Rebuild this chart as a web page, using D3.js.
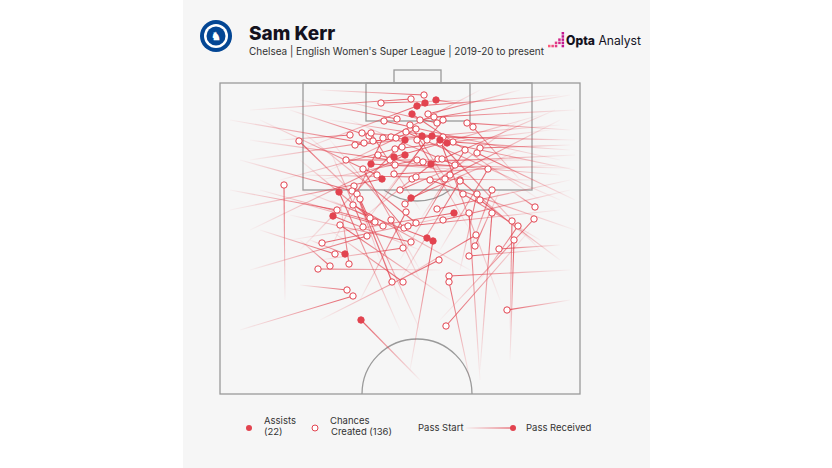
<!DOCTYPE html>
<html><head><meta charset="utf-8">
<script src="https://cdn.jsdelivr.net/npm/d3@7"></script>
<style>body{margin:0;background:#fff;font-family:Inter,"Noto Sans",sans-serif}</style>
</head><body><svg id="c" width="832" height="468"></svg>
<script>
// pitch units: x across (0-72), y depth from goal line (0-62.2)
const assists = [
[39.4,4.6,68,2.4],[41,4,16,13.4],[43.2,3.4,50,4.4],[38.4,6.2,64,23.4],[40.4,10.6,68,11.4],
[42.4,10.6,22,7.4],[37,11.4,16,33.4],[45.4,12,71,17.4],[34.8,14.8,64,6.4],[37,14.4,6,29.4],
[42.2,16.2,68,18.4],[30.2,16.2,50,17.4],[32.4,19.2,2,25.4],[23.8,21.8,36,49.4],[38.2,23,60,13.4],
[22.6,26.6,40,33.4],[46.8,26,14,31.4],[41.4,31,16,21.4],[42.6,31.6,38,57.4],[25,34.2,18,31.4],
[28.2,47.4,40,59.4],[44,11.4,56,43.4]];
const chances = [
[32.2,4,50,3.4],[38.2,3.2,6,5.4],[40.8,2.4,20,1.4],[32.8,7.6,68,15.4],[35.4,7.2,16,3.4],
[41.6,6.2,60,1.4],[42.8,6.8,71,5.4],[44.6,7.4,32,23.4],[43.4,8,24,3.4],[49.4,8,70,9.4],
[50.6,8.8,60,19.4],[39.2,9.2,22,17.4],[37.2,9.8,68,23.4],[28.4,10,48,11.4],[29.8,10.6,14,5.4],
[30.6,11.6,68,8.4],[32.6,11,22,33.4],[34.2,10.8,52,1.4],[35.2,11,6,15.4],[27,12.4,46,10.4],
[28.8,12,2,7.4],[39.4,11.4,50,29.4],[41.4,11.4,28,29.4],[44.6,10.8,71,11.4],[44,12,64,33.4],
[46.6,11.8,70,13.4],[35,13.2,66,9.4],[36.4,12.8,12,19.4],[52,13,70,12.4],[51.4,14,71,23.4],
[31.6,14.4,52,19.4],[25.2,15.4,64,15.4],[39.4,15.4,20,19.4],[40.6,15.8,71,14.4],[43.6,15.2,28,27.4],
[44.4,15.2,67,5.4],[28.6,17.2,40,37.4],[35,16.4,70,17],[53.6,17.2,44,33.4],[31.4,18.4,8,7.4],
[34.8,18.2,68,16.4],[38.4,19.2,64,19.4],[39.2,18.8,16,18.4],[45,19.2,68,7.4],[46,18.4,36,35.4],
[48,19.4,62,31.4],[15.8,11.6,28,23.4],[12.8,20.4,13,43.4],[26.8,20.6,32,35.4],[26.4,21.6,4,15.4],
[27.4,22.2,36,43.4],[28,23.2,40,49.4],[26.6,24.4,50,37.4],[23.4,25.4,2,21.4],[29.8,26.8,22,23.4],
[37,24.2,60,7.4],[37.2,25.8,28,43.4],[43.4,25.2,70,19.4],[48.6,22.2,64,31.4],[51.4,22.2,48,37.4],
[54.4,21.4,50,33.4],[49.8,26,52,59.4],[54.4,26,52,57.4],[30,27,16,15.4],[31,27.8,8,21.4],
[34.2,27.4,40,39.4],[32.6,28.6,14,23.4],[28.6,28.8,22,13.4],[29.4,30.6,6,37.4],[20.4,32,52,25.4],
[23,34.2,8,29.4],[25.8,36.2,24,23.4],[22,36.6,16,31.4],[19.6,37.2,44,37.4],[36.8,29,22,11.4],
[37.6,28.6,68,25.4],[39.2,28,16,9.4],[38.2,31.8,14,26.4],[36.6,33,20,35.4],[44.6,27.4,70,21.4],
[48,19.6,36,39.4],[51.2,30.4,36,39.4],[51,32.6,56,21.4],[49.8,34.6,64,33.4],[55.8,33.2,68,32.4],
[58.4,27.6,58,49.4],[59.6,28.6,52,39.4],[63,24.8,58,21.4],[62.8,27.2,44,47.4],[58.8,31.4,58,55.4],
[43.8,35.4,20,47.4],[45.8,38.6,70,37.4],[45.8,39.8,50,59.4],[34.4,39.8,28,23.4],[36.6,39.8,22,29.4],
[25.4,41.4,16,40.4],[26.6,42.6,4,49.4],[57.4,45.4,70,43.4],[45.2,48.6,62,29.4],[30.2,10,40,25.4],
[38,8.4,48,23.4],[26,10.4,12,11.4],[40,7.4,70,2.4],[34,15.4,6,11.4],[47,16.4,26,7.4],
[42,19.4,71,29.4],[49,13.4,40,27.4],[36,21.4,50,15.4],[24,28.4,46,43.4],[52,23.4,68,35.4]];
const legendLabels = ["Assists","(22)","Chances","Created (136)","Pass Start","Pass Received"];
const title = "Sam Kerr";
const subtitle = "Chelsea | English Women's Super League | 2019-20 to present";

const RED = "#e2434f";
const svg = d3.select("#c");
svg.append("rect").attr("x",183).attr("y",0).attr("width",467).attr("height",468).attr("fill","#f6f6f6");
const x = d3.scaleLinear().domain([0,72]).range([220,580]);
const y = d3.scaleLinear().domain([0,62.2]).range([83,394]);
const g = svg.append("g");
const pc = "#9a9a9a";
const rect=(x0,y0,x1,y1)=>g.append("rect").attr("x",x(x0)).attr("y",y(y0)).attr("width",x(x1)-x(x0)).attr("height",y(y1)-y(y0)).attr("fill","none").attr("stroke",pc).attr("stroke-width",1.3);
rect(0,0,72,62.2); rect(16.6,0,62.4,21.4); rect(29.2,0,50,7.6); rect(34.8,-2.6,44.2,0);
const pcx=x(39.4), pcy=y(12.6), pr=x(11)-x(0);
const ang=Math.acos((y(21.4)-pcy)/pr);
g.append("path").attr("d",d3.arc()({innerRadius:pr,outerRadius:pr,startAngle:Math.PI-ang,endAngle:Math.PI+ang})).attr("transform",`translate(${pcx},${pcy})`).attr("fill","none").attr("stroke",pc).attr("stroke-width",1.3);
g.append("path").attr("d",d3.arc()({innerRadius:x(11)-x(0),outerRadius:x(11)-x(0),startAngle:-Math.PI/2,endAngle:Math.PI/2})).attr("transform",`translate(${x(39.4)},${y(62.2)})`).attr("fill","none").attr("stroke",pc).attr("stroke-width",1.3);

const defs=svg.append("defs");
const all=chances.map(d=>({d,a:false})).concat(assists.map(d=>({d,a:true})));
all.forEach((o,i)=>{
  const [ex,ey,sx,sy]=o.d;
  const gr=defs.append("linearGradient").attr("id","g"+i).attr("gradientUnits","userSpaceOnUse")
    .attr("x1",x(sx)).attr("y1",y(sy)).attr("x2",x(ex)).attr("y2",y(ey));
  gr.append("stop").attr("offset",0).attr("stop-color",RED).attr("stop-opacity",0.03);
  gr.append("stop").attr("offset",1).attr("stop-color",RED).attr("stop-opacity",0.85);
  g.append("line").attr("x1",x(sx)).attr("y1",y(sy)).attr("x2",x(ex)).attr("y2",y(ey))
    .attr("stroke",`url(#g${i})`).attr("stroke-width",1.1);
});
all.forEach(o=>{
  g.append("circle").attr("cx",x(o.d[0])).attr("cy",y(o.d[1])).attr("r",3.2)
   .attr("fill",o.a?RED:"#fff").attr("stroke",RED).attr("stroke-width",1);
});

// header
const lg=svg.append("g").attr("transform","translate(216,36)");
lg.append("circle").attr("r",16).attr("fill","#034694");
lg.append("circle").attr("r",12).attr("fill","#fff");
lg.append("circle").attr("r",9.5).attr("fill","#034694");
lg.append("text").attr("text-anchor","middle").attr("y",4).attr("font-size",11).attr("font-weight",700).attr("fill","#fff").text("♞");
svg.append("text").attr("x",249).attr("y",40).text(title).attr("font-size",19).attr("font-weight",800).attr("fill","#14121e");
svg.append("text").attr("x",249).attr("y",51).attr("dy","0.35em").text(subtitle).attr("font-size",10.5).attr("fill","#333")
  .attr("textLength",295).attr("lengthAdjust","spacingAndGlyphs");
const sq=[[0,4],[1,4],[2,3],[3,3],[3,2],[4,1],[4,0],[2,4],[4,4],[4,3],[4,2]];
sq.forEach(([i,j])=>svg.append("rect").attr("x",548+i*3.4).attr("y",32+j*3.2).attr("width",2.5).attr("height",2.5).attr("fill",d3.interpolate("#ff5a7a","#c2188f")(i/4)));
svg.append("text").attr("x",566).attr("y",45).attr("font-size",12.5).attr("fill","#14121e")
  .attr("textLength",75).attr("lengthAdjust","spacingAndGlyphs")
  .call(t=>{t.append("tspan").attr("font-weight",800).text("Opta");t.append("tspan").text(" Analyst");});

// legend
const ly=428, fs=9.5, tc="#333";
svg.append("circle").attr("cx",249).attr("cy",ly).attr("r",3).attr("fill",RED);
svg.append("text").attr("x",264).attr("y",ly-4).text(legendLabels[0]).attr("font-size",fs).attr("fill",tc);
svg.append("text").attr("x",264).attr("y",ly+7).text(legendLabels[1]).attr("font-size",fs).attr("fill",tc);
svg.append("circle").attr("cx",315).attr("cy",ly).attr("r",3).attr("fill","#fff").attr("stroke",RED);
svg.append("text").attr("x",330).attr("y",ly-4).text(legendLabels[2]).attr("font-size",fs).attr("fill",tc);
svg.append("text").attr("x",331).attr("y",ly+7).text(legendLabels[3]).attr("font-size",fs).attr("fill",tc);
svg.append("text").attr("x",418).attr("y",ly).attr("dy","0.35em").text(legendLabels[4]).attr("font-size",fs).attr("fill",tc);
const lgr=defs.append("linearGradient").attr("id","lgr");
lgr.append("stop").attr("offset",0).attr("stop-color",RED).attr("stop-opacity",0.05);
lgr.append("stop").attr("offset",1).attr("stop-color",RED).attr("stop-opacity",0.9);
svg.append("rect").attr("x",466).attr("y",ly-0.6).attr("width",47).attr("height",1.2).attr("fill","url(#lgr)");
svg.append("circle").attr("cx",513).attr("cy",ly).attr("r",3).attr("fill",RED);
svg.append("text").attr("x",526).attr("y",ly).attr("dy","0.35em").text(legendLabels[5]).attr("font-size",fs).attr("fill",tc);
</script></body></html>
